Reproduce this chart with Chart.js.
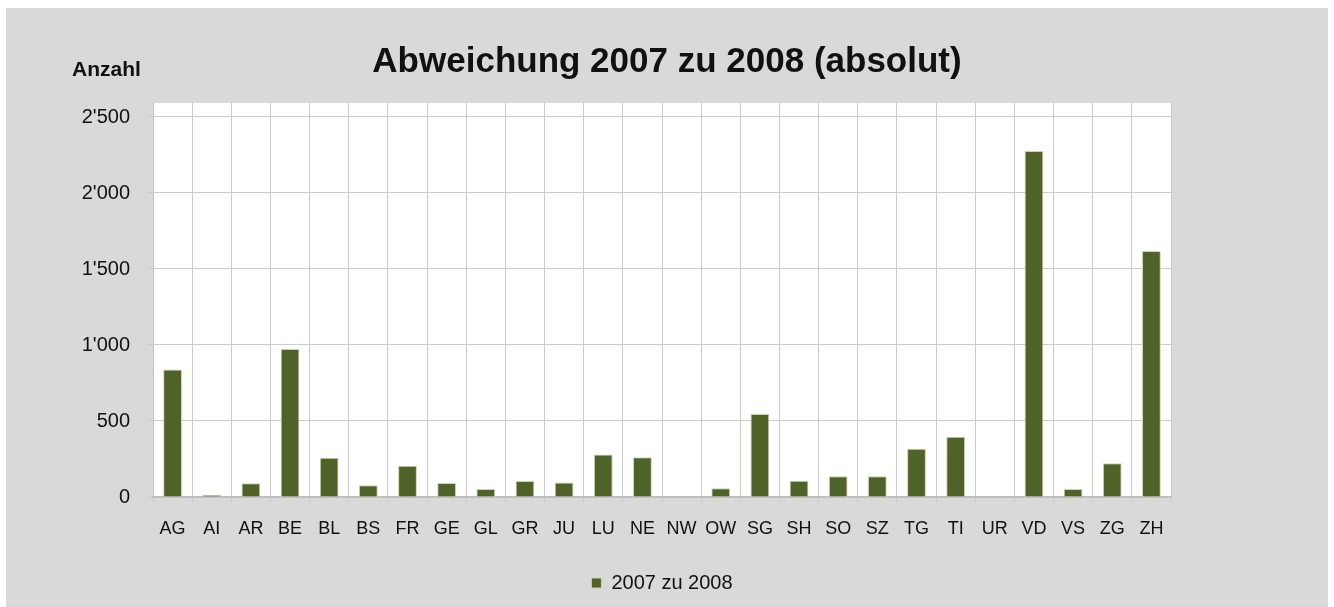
<!DOCTYPE html>
<html>
<head>
<meta charset="utf-8">
<script src="https://cdn.jsdelivr.net/npm/chart.js@4.4.1/dist/chart.umd.min.js"></script>
<style>
  html, body { margin: 0; padding: 0; background: #ffffff; }
  #box { position: absolute; left: 6px; top: 8px; width: 1322px; height: 599px; background: #d9d9d9; }
</style>
</head>
<body>
<div id="box"><canvas id="chart" width="1322" height="599"></canvas></div>
<script>
// Kantone
const cantons = ['AG', 'AI', 'AR', 'BE', 'BL', 'BS', 'FR', 'GE', 'GL', 'GR', 'JU', 'LU', 'NE',
                 'NW', 'OW', 'SG', 'SH', 'SO', 'SZ', 'TG', 'TI', 'UR', 'VD', 'VS', 'ZG', 'ZH'];

// Abweichung 2007 zu 2008 (absolut)
const diff2007to2008 = [838, 13, 90, 974, 259, 77, 206, 92, 53, 105, 96, 280, 262,
                        0, 57, 546, 107, 136, 136, 318, 397, 0, 2276, 53, 222, 1618];

const yTicks = [0, 500, 1000, 1500, 2000, 2500];

const textColor = '#111111';
const gridColor = '#cccccc';
const fontFamily = '"Liberation Sans", Arial, sans-serif';

// weisse Zeichenfläche + "Anzahl" oben links
const plotBackground = {
    id: 'plotBackground',
    beforeDraw(chart) {
        const { ctx, chartArea } = chart;
        ctx.save();
        ctx.fillStyle = '#ffffff';
        ctx.fillRect(chartArea.left, chartArea.top, chartArea.right - chartArea.left, chartArea.bottom - chartArea.top);
        ctx.restore();
    },
    afterDraw(chart) {
        const ctx = chart.ctx;
        ctx.save();
        ctx.font = 'bold 21px ' + fontFamily;
        ctx.fillStyle = textColor;
        ctx.textBaseline = 'alphabetic';
        ctx.textAlign = 'left';
        ctx.fillText('Anzahl', 66, 68);
        ctx.restore();
    }
};

const context = document.getElementById('chart').getContext('2d');

const data = {
    labels: cantons,
    datasets: [{
        label: '2007 zu 2008',
        data: diff2007to2008,
        backgroundColor: '#4f6228',
        borderColor: '#c9d4b0',
        borderWidth: 1,
        barPercentage: 0.48,
        categoryPercentage: 1.0
    }]
};

const config = {
    type: 'bar',
    data: data,
    options: {
        responsive: false,
        animation: false,
        layout: {
            padding: { left: 0, right: 0, top: 0, bottom: 4 }
        },
        scales: {
            x: {
                afterFit: (scale) => { scale.height = 66; },
                grid: {
                    offset: true,
                    color: gridColor,
                    tickColor: gridColor,
                    tickLength: 6
                },
                border: { color: '#bfbfbf', width: 2 },
                ticks: {
                    color: textColor,
                    padding: 15,
                    font: { family: fontFamily, size: 18 },
                    maxRotation: 0,
                    autoSkip: false
                }
            },
            y: {
                min: 0,
                max: 2592,
                afterFit: (scale) => { scale.width = 147; },
                afterBuildTicks: (scale) => {
                    scale.ticks = yTicks.map(v => ({ value: v }));
                },
                grid: {
                    color: gridColor,
                    tickColor: gridColor,
                    tickLength: 6
                },
                border: { color: '#bfbfbf', width: 1 },
                ticks: {
                    color: textColor,
                    padding: 17,
                    font: { family: fontFamily, size: 20 },
                    callback: (v) => String(v).replace(/\B(?=(\d{3})+(?!\d))/g, "'")
                }
            },
            // leerer Rand rechts, damit Titel über der ganzen Fläche zentriert bleibt
            spacer: {
                type: 'linear',
                position: 'right',
                afterFit: (scale) => { scale.width = 157; },
                grid: { display: false },
                border: { display: false },
                ticks: { display: false }
            }
        },
        plugins: {
            title: {
                display: true,
                text: 'Abweichung 2007 zu 2008 (absolut)',
                color: textColor,
                font: { family: fontFamily, size: 35, weight: 'bold' },
                padding: { top: 33, bottom: 20 }
            },
            legend: {
                display: true,
                position: 'bottom',
                fullSize: false,
                labels: {
                    color: textColor,
                    boxWidth: 10,
                    boxHeight: 10,
                    padding: 10,
                    font: { family: fontFamily, size: 20 }
                }
            },
            tooltip: { enabled: false }
        }
    },
    plugins: [plotBackground]
};

const chart = new Chart(context, config);
</script>
</body>
</html>
